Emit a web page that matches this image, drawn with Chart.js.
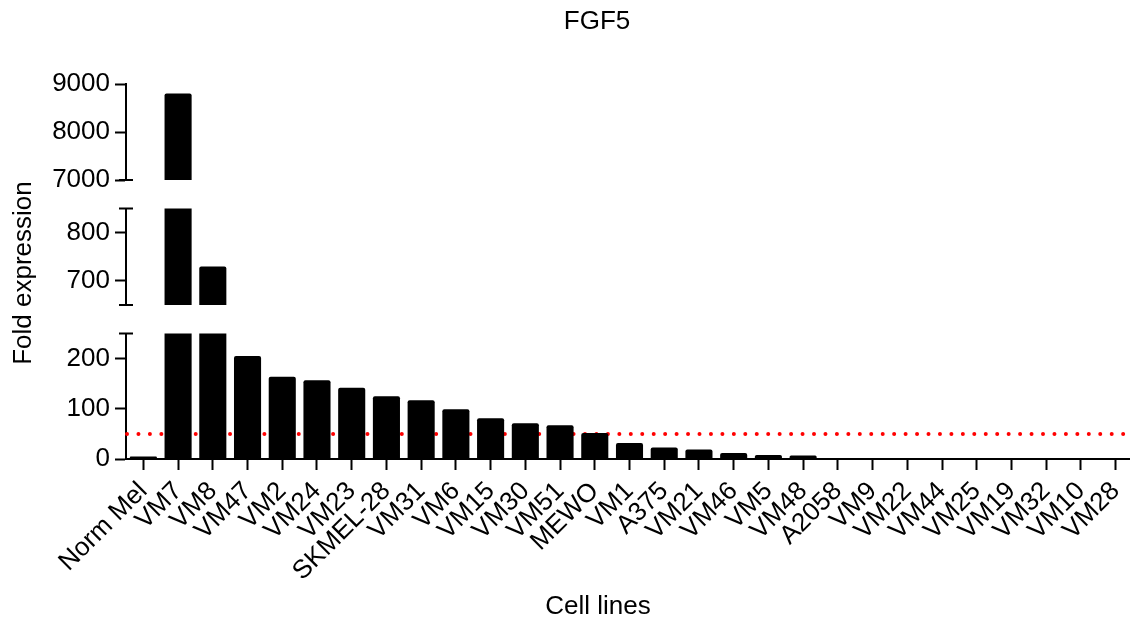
<!DOCTYPE html>
<html lang="en">
<head>
    <meta charset="UTF-8">
    <title>FGF5</title>
    <script src="https://cdn.jsdelivr.net/npm/chart.js"></script>
    <style>
        html, body {
            margin: 0;
            padding: 0;
            background: #fff;
            overflow: hidden;
        }
        .wrap {
            position: relative;
            width: 1130px;
            height: 618px;
            overflow: hidden;
        }
        .wrap canvas {
            position: absolute;
            left: 0;
            top: 0;
        }
    </style>
</head>
<body>
    <div class="wrap">
        <canvas id="partUpper" width="1133" height="618"></canvas>
        <canvas id="partMiddle" width="1133" height="618"></canvas>
        <canvas id="partLower" width="1133" height="618"></canvas>
    </div>
    <script>
        // Дані
        const cellLines = ['Norm Mel', 'VM7', 'VM8', 'VM47', 'VM2', 'VM24', 'VM23', 'SKMEL-28', 'VM31', 'VM6',
            'VM15', 'VM30', 'VM51', 'MEWO', 'VM1', 'A375', 'VM21', 'VM46', 'VM5', 'VM48',
            'A2058', 'VM9', 'VM22', 'VM44', 'VM25', 'VM19', 'VM32', 'VM10', 'VM28'];
        const foldExpression = [5, 8800, 730, 205, 164, 157, 142, 125, 117, 99,
            81, 71, 67, 52, 32, 23, 19, 12, 8, 7,
            0, 0, 0, 0, 0, 0, 0, 0, 0];
        const threshold = 50;

        // Розриви осі Y
        const upperRange = [7000, 9000];
        const upperTicks = [7000, 8000, 9000];
        const middleRange = [650, 850];
        const middleTicks = [700, 800];
        const lowerRange = [0, 250];
        const lowerTicks = [0, 100, 200];

        const chartTitle = 'FGF5';
        const xTitle = 'Cell lines';
        const yTitle = 'Fold expression';

        const H = 618;
        const axisLeft = 126;
        const fontFamily = 'Arial, "Liberation Sans", sans-serif';
        const font = { family: fontFamily, size: 26 };

        function breakCaps(edges) {
            return {
                id: 'breakCaps',
                afterDraw(chart) {
                    const { ctx, chartArea } = chart;
                    const x = chartArea.left;
                    ctx.save();
                    ctx.strokeStyle = '#000';
                    ctx.lineWidth = 2;
                    edges.forEach(edge => {
                        const y = edge === 'top' ? chartArea.top : chartArea.bottom;
                        ctx.beginPath();
                        ctx.moveTo(x - 7, y);
                        ctx.lineTo(x + 7, y);
                        ctx.stroke();
                    });
                    ctx.restore();
                }
            };
        }

        const thresholdLine = {
            id: 'thresholdLine',
            beforeDatasetsDraw(chart) {
                const { ctx, chartArea, scales } = chart;
                const y = scales.y.getPixelForValue(threshold);
                ctx.save();
                ctx.strokeStyle = '#ff0000';
                ctx.lineWidth = 4;
                ctx.lineCap = 'round';
                ctx.setLineDash([0, 11.45]);
                ctx.beginPath();
                ctx.moveTo(chartArea.left + 1, y);
                ctx.lineTo(chartArea.right - 8, y);
                ctx.stroke();
                ctx.restore();
            }
        };

        const titles = {
            id: 'titles',
            afterDraw(chart) {
                const ctx = chart.ctx;
                ctx.save();
                ctx.fillStyle = '#000';
                ctx.font = '26px ' + fontFamily;
                ctx.textAlign = 'center';
                ctx.textBaseline = 'middle';
                ctx.fillText(chartTitle, 597, 22);
                ctx.fillText(xTitle, 598, 607);
                ctx.translate(24, 273);
                ctx.rotate(-Math.PI / 2);
                ctx.fillText(yTitle, 0, 0);
                ctx.restore();
            }
        };

        function makePart(id, range, ticks, area, showX, extraPlugins) {
            return new Chart(document.getElementById(id), {
                type: 'bar',
                data: {
                    labels: cellLines,
                    datasets: [{
                        data: foldExpression,
                        backgroundColor: '#000',
                        borderRadius: 2,
                        barPercentage: 0.78,
                        categoryPercentage: 1,
                        clip: 0
                    }]
                },
                options: {
                    responsive: false,
                    animation: false,
                    layout: {
                        padding: { top: area[0], bottom: showX ? 0 : H - area[1], left: 0, right: 0 }
                    },
                    plugins: {
                        legend: { display: false },
                        tooltip: { enabled: false }
                    },
                    scales: {
                        x: {
                            display: showX,
                            afterFit: s => {
                                // підписи не повинні стискати область графіка
                                s.paddingLeft = 0;
                                s.paddingRight = 0;
                                if (showX) s.height = H - area[1];
                            },
                            grid: {
                                offset: false,
                                drawOnChartArea: false,
                                tickLength: 11,
                                tickWidth: 2,
                                tickColor: '#000'
                            },
                            border: { color: '#000', width: 2 },
                            ticks: {
                                color: '#000',
                                font: font,
                                autoSkip: false,
                                maxRotation: 45,
                                minRotation: 45,
                                padding: 6
                            }
                        },
                        y: {
                            min: range[0],
                            max: range[1],
                            afterFit: s => { s.width = axisLeft; },
                            afterBuildTicks: s => { s.ticks = ticks.map(v => ({ value: v })); },
                            grid: {
                                drawOnChartArea: false,
                                tickLength: 11,
                                tickWidth: 2,
                                tickColor: '#000'
                            },
                            border: { color: '#000', width: 2 },
                            ticks: {
                                color: '#000',
                                font: font,
                                padding: 5,
                                callback: v => String(v)
                            }
                        }
                    }
                },
                plugins: extraPlugins
            });
        }

        makePart('partUpper', upperRange, upperTicks, [84, 180], false, [breakCaps(['bottom'])]);
        makePart('partMiddle', middleRange, middleTicks, [208.5, 305], false, [breakCaps(['top', 'bottom'])]);
        makePart('partLower', lowerRange, lowerTicks, [333.5, 459], true, [thresholdLine, breakCaps(['top']), titles]);
    </script>
</body>
</html>
